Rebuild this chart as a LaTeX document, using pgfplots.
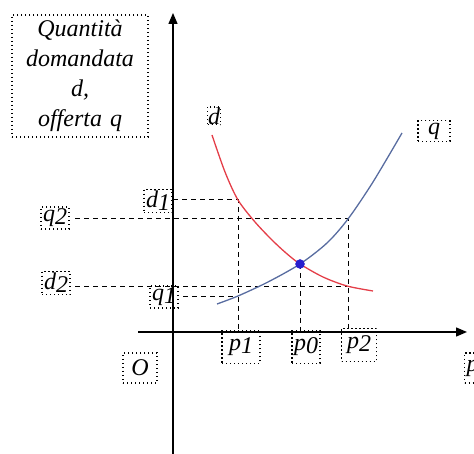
\documentclass[border=0pt]{standalone}
\usepackage{pgfplots}
\pgfplotsset{compat=1.18}
\usepackage{fontspec}
\setmainfont{Liberation Serif}
\usetikzlibrary{arrows.meta}

\definecolor{dcurve}{RGB}{228,62,72}
\definecolor{qcurve}{RGB}{88,108,160}
\definecolor{eqpt}{RGB}{40,30,205}

\newcommand{\sub}[1]{\raisebox{-3pt}{#1}}

\begin{document}
\begin{tikzpicture}[
    lbl/.style={draw=black, dash pattern=on 1.2pt off 2.8pt, line width=1.1pt,
        inner sep=2pt, font=\fontsize{24}{28}\selectfont\itshape},
    guide/.style={black, line width=1pt, dash pattern=on 5pt off 4pt}
]
\begin{axis}[
        name=ax,
        scale only axis,
        width=474pt, height=454pt,
        xmin=-173, xmax=301, ymin=-122, ymax=332,
        hide axis, clip=false,
    ]
    % assi
    \draw[line width=1.4pt, -{Triangle[length=11pt,width=9pt]}] (-35,0) -- (294,0);
    \draw[line width=1.4pt, -{Triangle[length=11pt,width=9pt]}] (0,-122) -- (0,319);

    % linee tratteggiate
    \addplot[guide] coordinates {(0,132) (65,132) (65,0)};
    \addplot[guide] coordinates {(-98,113) (175,113) (175,0)};
    \addplot[guide] coordinates {(-98,45) (174,45)};
    \addplot[guide] coordinates {(10,35) (65,35)};
    \addplot[guide] coordinates {(127,68) (127,0)};

    % domanda d
    \addplot[dcurve, line width=1.3pt, smooth, mark=none] coordinates {
        (39,197) (52,160) (65,132) (82,110) (99,92) (113,79) (127,68) (150,55) (174,46) (200,41)};
    % offerta q
    \addplot[qcurve, line width=1.3pt, smooth, mark=none] coordinates {
        (44,28) (65,36) (95,50) (127,68) (154,89) (175,113) (200,150) (229,199)};

    % equilibrio
    \addplot[only marks, mark=*, mark size=4.5pt, color=eqpt] coordinates {(127,68)};

    % etichette
    \node[lbl, text width=132pt, align=center, minimum height=122pt,
        font=\fontsize{24}{30}\selectfont\itshape] at (-93,256)
        {Quantità\\domandata\\d,\\offerta q};
    \node[lbl, inner sep=0.5pt] at (41,216) {d};
    \node[lbl, minimum width=32pt] at (261,201) {q};
    \node[lbl] at (-15,131) {d\sub{1}};
    \node[lbl] at (-118,114) {q\sub{2}};
    \node[lbl] at (-117,49) {d\sub{2}};
    \node[lbl] at (-9,35) {q\sub{1}};
    \node[lbl, minimum width=38pt, minimum height=33pt] at (68,-15) {p\sub{1}};
    \node[lbl, minimum height=33pt] at (133,-15) {p\sub{0}};
    \node[lbl, minimum width=35pt, minimum height=33pt] at (186,-13) {p\sub{2}};
    \node[lbl, minimum width=34pt, minimum height=30pt] at (-33,-36) {O};
    \node[lbl, anchor=west, minimum height=30pt] at (291,-36) {p};
\end{axis}
\pgfresetboundingbox
\path[use as bounding box] (ax.south west) rectangle (ax.north east);
\end{tikzpicture}
\end{document}
